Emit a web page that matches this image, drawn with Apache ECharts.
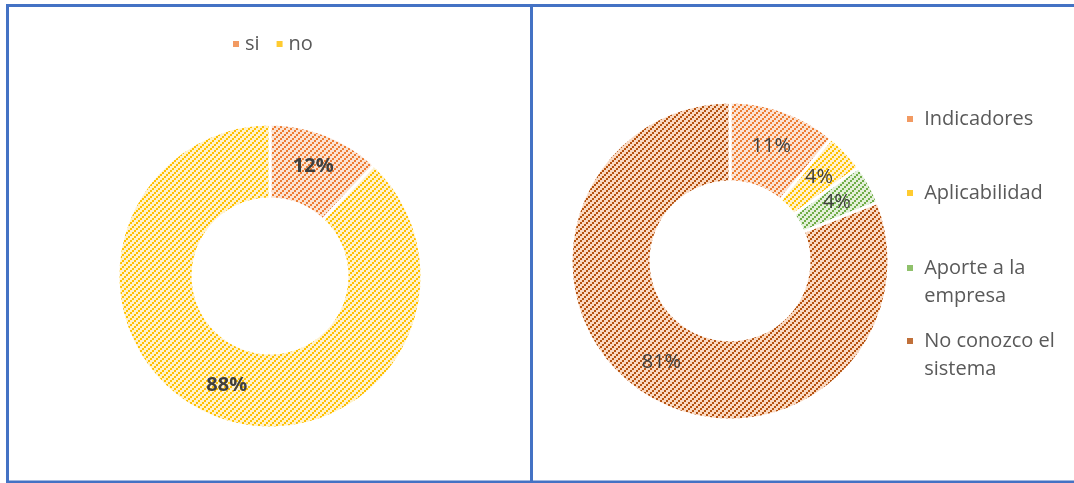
<!DOCTYPE html>
<html>
<head>
<meta charset="utf-8">
<script src="https://cdn.jsdelivr.net/npm/echarts@6/dist/echarts.min.js"></script>
<style>
  html, body { margin: 0; padding: 0; background: #fff; }
  #chart { width: 1074px; height: 483px; }
</style>
</head>
<body>
<div id="chart"></div>
<script>
// left chart
var leftNames = ['si', 'no']
var leftValues = [12, 88]
// right chart
var rightNames = ['Indicadores', 'Aplicabilidad', 'Aporte a la empresa', 'No conozco el sistema']
var rightValues = [11, 4, 4, 81]

// hatch fill like excel "wide upward diagonal" (2x2 pixel steps)
function hatch (bg, fg) {
  var c = document.createElement('canvas')
  c.width = 6
  c.height = 6
  var ctx = c.getContext('2d')
  ctx.fillStyle = bg
  ctx.fillRect(0, 0, 6, 6)
  ctx.fillStyle = fg
  for (var x = 0; x < 6; x++) {
    for (var y = 0; y < 6; y++) {
      if ((Math.floor(x / 2) + Math.floor(y / 2)) % 3 === 2) ctx.fillRect(x, y, 1, 1)
    }
  }
  return { image: c, repeat: 'repeat' }
}

var leftColors = [hatch('#fbe3d4', '#ed7d31'), hatch('#fff2cc', '#ffc000')]
var rightColors = [hatch('#fbe3d4', '#ed7d31'), hatch('#fff2cc', '#ffc000'), hatch('#e3f0da', '#70ad47'), hatch('#fad9c2', '#b5520f')]
// legend icons are small, solid tone reads closer
var leftIcons = ['#f29a62', '#ffcb30']
var rightIcons = ['#f29a62', '#ffcb30', '#8fc16b', '#c0703a']

var font = '"Open Sans", sans-serif'
var legendText = { color: '#595959', fontSize: 20, fontFamily: font, lineHeight: 28 }

function legendItem (i, top) {
  return {
    data: [{ name: rightNames[i], itemStyle: { color: rightIcons[i] } }],
    left: 905,
    top: top,
    padding: 0,
    icon: 'rect',
    itemWidth: 8,
    itemHeight: 8,
    itemGap: 0,
    textStyle: legendText,
    formatter: function (n) {
      // blank first line so the icon lines up with the first row
      if (n === 'Aporte a la empresa') return ' \n Aporte a la\n empresa'
      if (n === 'No conozco el sistema') return ' \n No conozco el\n sistema'
      return ' ' + n
    }
  }
}

var myChart = echarts.init(document.getElementById('chart'))
myChart.setOption({
  animation: false,
  graphic: [
    { type: 'rect', shape: { x: 7.5, y: 5.5, width: 524, height: 476.5 }, style: { fill: 'none', stroke: '#4472c4', lineWidth: 3 }, silent: true },
    { type: 'rect', shape: { x: 531.5, y: 5.5, width: 560, height: 476.5 }, style: { fill: 'none', stroke: '#4472c4', lineWidth: 3 }, silent: true }
  ],
  legend: [
    {
      data: leftNames.map(function (n, i) {
        return { name: n, itemStyle: { color: leftIcons[i] } }
      }),
      left: 231,
      top: 33,
      padding: 0,
      icon: 'rect',
      itemWidth: 8,
      itemHeight: 8,
      itemGap: 15,
      textStyle: { color: '#595959', fontSize: 20, fontFamily: font, lineHeight: 22 }
    },
    legendItem(0, 105),
    legendItem(1, 179),
    legendItem(2, 226),
    legendItem(3, 299)
  ],
  series: [
    {
      type: 'pie',
      center: [270, 276],
      radius: [77, 152],
      startAngle: 90,
      avoidLabelOverlap: false,
      itemStyle: { borderColor: '#fff', borderWidth: 3 },
      label: {
        show: true,
        position: 'inside',
        formatter: '{c}%',
        color: '#404040',
        fontSize: 20,
        fontWeight: 'bold',
        fontFamily: font
      },
      labelLine: { show: false },
      data: leftNames.map(function (n, i) {
        return { name: n, value: leftValues[i], itemStyle: { color: leftColors[i] } }
      })
    },
    {
      type: 'pie',
      center: [730, 261],
      radius: [79, 159],
      startAngle: 90,
      avoidLabelOverlap: false,
      itemStyle: { borderColor: '#fff', borderWidth: 3 },
      label: {
        show: true,
        position: 'inside',
        formatter: '{c}%',
        color: '#404040',
        fontSize: 20,
        fontFamily: font
      },
      labelLine: { show: false },
      data: rightNames.map(function (n, i) {
        return { name: n, value: rightValues[i], itemStyle: { color: rightColors[i] } }
      })
    }
  ]
})
</script>
</body>
</html>
